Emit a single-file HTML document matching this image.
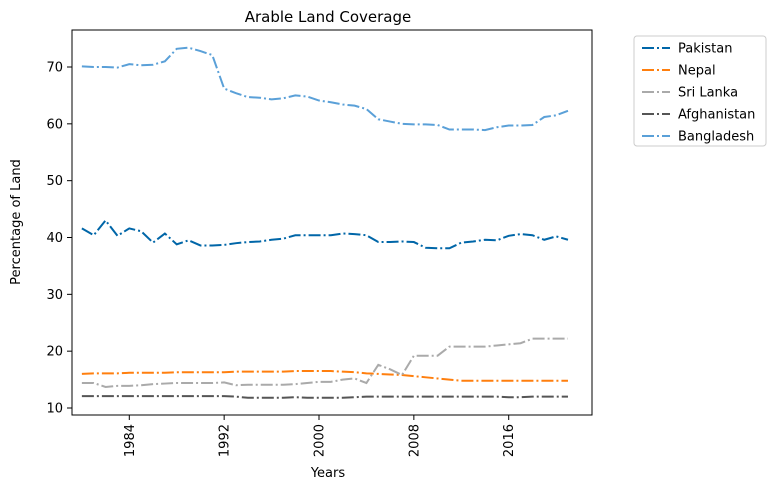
<!DOCTYPE html>
<html><head><meta charset="utf-8"><style>
body{margin:0;background:#fff;font-family:"Liberation Sans","DejaVu Sans",sans-serif;}
svg text{font-family:"DejaVu Sans","Liberation Sans",sans-serif;}
</style></head><body>
<svg id="chart" width="776" height="490" xmlns="http://www.w3.org/2000/svg">
<rect width="776" height="490" fill="#fff"/>
<text x="328" y="22" font-size="15" text-anchor="middle">Arable Land Coverage</text>
<g id="plot"></g>
<rect x="72" y="30" width="520" height="385" fill="none" stroke="#000" stroke-width="1"/>
<text x="328" y="477" font-size="13" text-anchor="middle">Years</text>
<text transform="translate(20,222) rotate(-90)" font-size="13" text-anchor="middle">Percentage of Land</text>
<g id="legend">
<rect x="634" y="36" width="132" height="110" rx="3" fill="#fff" stroke="#ccc"/>
</g>
</svg>
<script>
const years=[];for(let y=1980;y<=2021;y++)years.push(y);
const xTicks=[1984,1992,2000,2008,2016];
const yTicks=[10,20,30,40,50,60,70];
const seriesNames=["Pakistan","Nepal","Sri Lanka","Afghanistan","Bangladesh"];
const seriesColors=["#0066a8","#ff7f0e","#aaaaaa","#555555","#5aa0d8"];
const pakistan=[41.6,40.4,43.0,40.3,41.6,41.1,39.1,40.7,38.8,39.5,38.6,38.6,38.7,39.0,39.2,39.3,39.6,39.8,40.4,40.4,40.4,40.4,40.7,40.6,40.4,39.2,39.2,39.3,39.2,38.2,38.1,38.1,39.1,39.3,39.6,39.5,40.3,40.6,40.4,39.6,40.2,39.6];
const nepal=[16.0,16.1,16.1,16.1,16.2,16.2,16.2,16.2,16.3,16.3,16.3,16.3,16.3,16.4,16.4,16.4,16.4,16.4,16.5,16.5,16.5,16.5,16.4,16.3,16.1,16.0,15.9,15.8,15.6,15.4,15.2,15.0,14.8,14.8,14.8,14.8,14.8,14.8,14.8,14.8,14.8,14.8];
const sriLanka=[14.4,14.4,13.7,13.9,13.9,14.0,14.2,14.3,14.4,14.4,14.4,14.4,14.5,14.0,14.1,14.1,14.1,14.1,14.2,14.4,14.6,14.6,15.0,15.2,14.4,17.6,16.8,15.8,19.2,19.2,19.2,20.8,20.8,20.8,20.8,21.0,21.2,21.4,22.2,22.2,22.2,22.2];
const afghanistan=[12.1,12.1,12.1,12.1,12.1,12.1,12.1,12.1,12.1,12.1,12.1,12.1,12.1,12.0,11.8,11.8,11.8,11.8,11.9,11.8,11.8,11.8,11.8,11.9,12.0,12.0,12.0,12.0,12.0,12.0,12.0,12.0,12.0,12.0,12.0,12.0,11.9,11.9,12.0,12.0,12.0,12.0];
const bangladesh=[70.1,70.0,70.0,69.9,70.5,70.3,70.4,71.0,73.2,73.4,72.8,72.1,66.2,65.4,64.7,64.6,64.3,64.5,65.0,64.8,64.1,63.8,63.4,63.2,62.6,60.8,60.4,60.0,59.9,59.9,59.8,59.0,59.0,59.0,58.9,59.4,59.7,59.7,59.8,61.2,61.5,62.3];
const seriesData=[pakistan,nepal,sriLanka,afghanistan,bangladesh];

const NS="http://www.w3.org/2000/svg";
const xs=y=>129.3+(y-1984)*(508.7-129.3)/32;
const ys=v=>408-(v-10)*(408-67)/60;
const plot=document.getElementById('plot');
function mk(t,a){const e=document.createElementNS(NS,t);for(const k in a)e.setAttribute(k,a[k]);return e;}
xTicks.forEach(t=>{
  const l=mk('line',{x1:xs(t),x2:xs(t),y1:415,y2:420,stroke:'#000'});
  
  
  plot.appendChild(l);
  const tx=mk('text',{transform:`translate(${xs(t)+4.5},424) rotate(-90)`,'font-size':13,'text-anchor':'end'});
  tx.textContent=t;
  
  
  plot.appendChild(tx);
});
yTicks.forEach(t=>{
  const l=mk('line',{x1:67,x2:72,y1:ys(t),y2:ys(t),stroke:'#000'});
  
  
  plot.appendChild(l);
  const tx=mk('text',{x:63,y:ys(t)+4.5,'font-size':13,'text-anchor':'end'});
  tx.textContent=t;
  
  
  plot.appendChild(tx);
});
seriesData.forEach((d,i)=>{
  const p=mk('polyline',{points:d.map((v,j)=>xs(years[j])+','+ys(v)).join(' '),fill:'none',stroke:seriesColors[i],'stroke-width':2,'stroke-dasharray':'12,3,2,3'});
  
  
  plot.appendChild(p);
});
const lg=document.getElementById('legend');
seriesNames.forEach((n,i)=>{
  const y=48+i*22;
  const l=mk('line',{x1:642,x2:670,y1:y,y2:y,stroke:seriesColors[i],'stroke-width':2,'stroke-dasharray':'12,3,2,3'});
  
  
  lg.appendChild(l);
  const t=mk('text',{x:678,y:y+4.5,'font-size':13});
  t.textContent=n;
  
  
  lg.appendChild(t);
});
</script>
</body></html>
